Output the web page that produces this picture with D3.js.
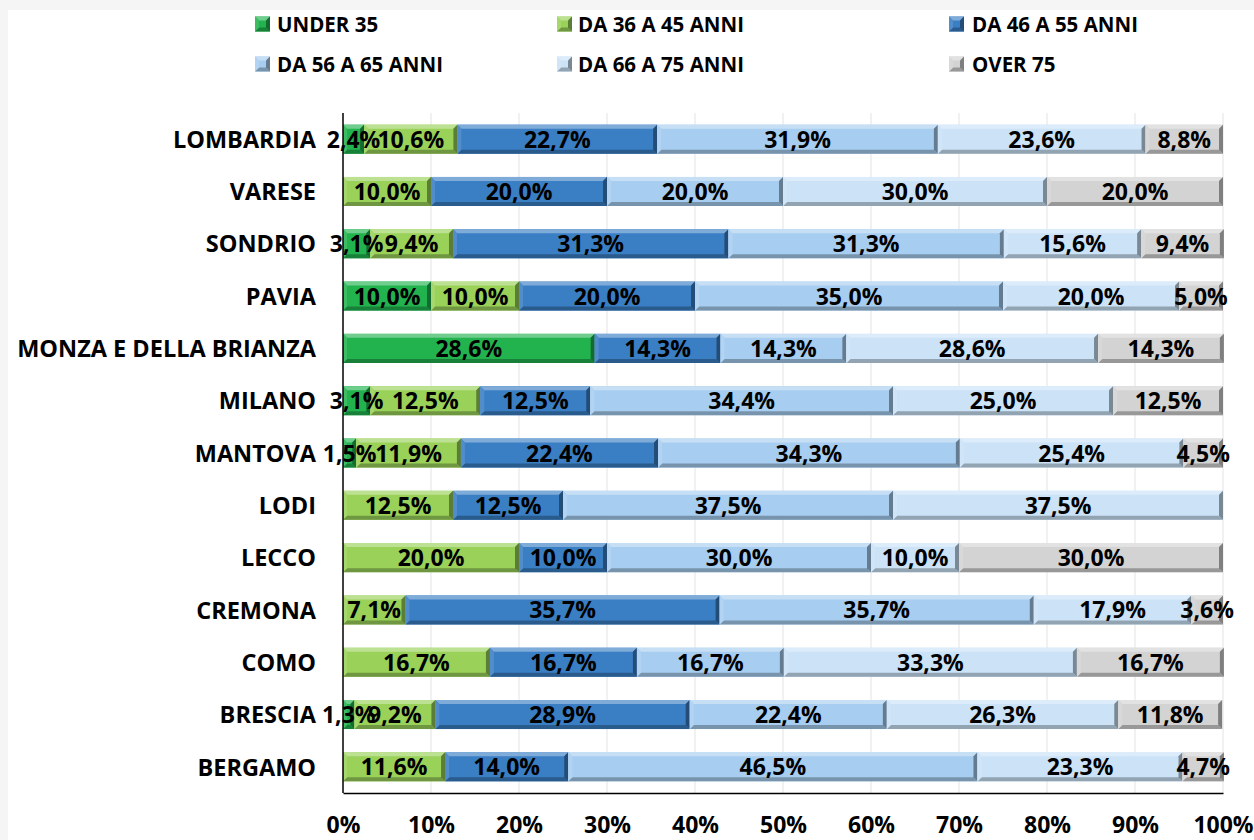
<!DOCTYPE html>
<html>
<head>
<meta charset="utf-8">
<script src="https://cdn.jsdelivr.net/npm/d3@7"></script>
<style>
  html, body { margin: 0; padding: 0; background: #f5f5f5; }
  svg { display: block; }
  text { font-family: "Open Sans", "DejaVu Sans", sans-serif; font-weight: 700; fill: #000; }
</style>
</head>
<body>
<svg id="chart" width="1254" height="840"></svg>
<script>
const categories = ["LOMBARDIA", "VARESE", "SONDRIO", "PAVIA", "MONZA E DELLA BRIANZA", "MILANO",
  "MANTOVA", "LODI", "LECCO", "CREMONA", "COMO", "BRESCIA", "BERGAMO"];
const seriesNames = ["UNDER 35", "DA 36 A 45 ANNI", "DA 46 A 55 ANNI", "DA 56 A 65 ANNI", "DA 66 A 75 ANNI", "OVER 75"];
const under35   = [2.4, 0,    3.1, 10.0, 28.6, 3.1,  1.5,  0,    0,    0,    0,    1.3,  0];
const da36a45   = [10.6, 10.0, 9.4, 10.0, 0,    12.5, 11.9, 12.5, 20.0, 7.1,  16.7, 9.2,  11.6];
const da46a55   = [22.7, 20.0, 31.3, 20.0, 14.3, 12.5, 22.4, 12.5, 10.0, 35.7, 16.7, 28.9, 14.0];
const da56a65   = [31.9, 20.0, 31.3, 35.0, 14.3, 34.4, 34.3, 37.5, 30.0, 35.7, 16.7, 22.4, 46.5];
const da66a75   = [23.6, 30.0, 15.6, 20.0, 28.6, 25.0, 25.4, 37.5, 10.0, 17.9, 33.3, 26.3, 23.3];
const over75    = [8.8, 20.0, 9.4, 5.0, 14.3, 12.5, 4.5, 0, 30.0, 3.6, 16.7, 11.8, 4.7];
const tickValues = [0, 10, 20, 30, 40, 50, 60, 70, 80, 90, 100];
const tickLabels = ["0%", "10%", "20%", "30%", "40%", "50%", "60%", "70%", "80%", "90%", "100%"];

const seriesValues = [under35, da36a45, da46a55, da56a65, da66a75, over75];
const colors = ["#22b34f", "#9ad159", "#3a7ec4", "#a7cdf0", "#cbe2f7", "#d3d3d3"];

const svg = d3.select("#chart");
svg.append("rect").attr("x", 8).attr("y", 10).attr("width", 1254 - 8).attr("height", 840 - 10).attr("fill", "#ffffff");

const x = d3.scaleLinear().domain([0, 100]).range([343, 1223]);
const y = d3.scaleBand().domain(categories).range([113, 793]).paddingInner(0.445).paddingOuter(0.2225);

// gridlines
svg.append("g").selectAll("line").data(tickValues.slice(1)).join("line")
  .attr("x1", d => x(d)).attr("x2", d => x(d))
  .attr("y1", 113).attr("y2", 793)
  .attr("stroke", "#e3e3e3").attr("stroke-width", 1);

// stack
const rows = categories.map((c, i) => {
  const r = { cat: c };
  seriesNames.forEach((s, j) => r[s] = seriesValues[j][i]);
  return r;
});
const stacked = d3.stack().keys(seriesNames)(rows);

function mix(c, target, t) {
  const a = d3.rgb(c), b = d3.rgb(target);
  return d3.rgb(a.r + (b.r - a.r) * t, a.g + (b.g - a.g) * t, a.b + (b.b - a.b) * t).formatHex();
}

function bevel(g, x0, y0, w, h, col, bw) {
  const b = Math.min(bw, w / 2, h / 2);
  const x1 = x0 + w, y1 = y0 + h;
  g.append("rect").attr("x", x0).attr("y", y0).attr("width", w).attr("height", h).attr("fill", col);
  const poly = (pts, fill) => g.append("polygon").attr("points", pts.map(p => p.join(",")).join(" ")).attr("fill", fill);
  poly([[x0, y0], [x1, y0], [x1 - b, y0 + b], [x0 + b, y0 + b]], mix(col, "#ffffff", 0.35));
  poly([[x0, y1], [x1, y1], [x1 - b, y1 - b], [x0 + b, y1 - b]], mix(col, "#000000", 0.28));
  poly([[x0, y0], [x0 + b, y0 + b], [x0 + b, y1 - b], [x0, y1]], mix(col, "#ffffff", 0.12));
  poly([[x1, y0], [x1 - b, y0 + b], [x1 - b, y1 - b], [x1, y1]], mix(col, "#000000", 0.4));
}

const barsG = svg.append("g");
stacked.forEach((layer, j) => {
  layer.forEach((seg, i) => {
    const v = seg[1] - seg[0];
    if (v <= 0) return;
    const gx = barsG.append("g");
    bevel(gx, x(seg[0]), y(categories[i]), x(seg[1]) - x(seg[0]), y.bandwidth(), colors[j], 4);
  });
});

// labels
const fmt = v => v.toFixed(1).replace(".", ",") + "%";
const labG = svg.append("g");
stacked.forEach((layer, j) => {
  layer.forEach((seg, i) => {
    const v = seg[1] - seg[0];
    if (v <= 0) return;
    labG.append("text")
      .attr("x", (x(seg[0]) + x(seg[1])) / 2)
      .attr("y", y(categories[i]) + y.bandwidth() / 2)
      .attr("dy", "0.37em")
      .attr("text-anchor", "middle")
      .attr("font-size", 23)
      .text(fmt(seriesValues[j][i]));
  });
});

// axes lines
svg.append("line").attr("x1", 343).attr("x2", 343).attr("y1", 113).attr("y2", 793).attr("stroke", "#000").attr("stroke-width", 1.5);
const xAxis = d3.axisBottom(x).tickValues(tickValues).tickFormat((d, i) => tickLabels[i]).tickSize(0).tickPadding(0);
const ax = svg.append("g").attr("transform", "translate(0,793)").call(xAxis);
ax.select(".domain").attr("stroke", "#000").attr("stroke-width", 1.5);
ax.selectAll("text").attr("font-size", 23).attr("font-family", "Open Sans").attr("font-weight", 700)
  .attr("y", 40).attr("dy", 0);

// category labels
const yAxis = d3.axisLeft(y).tickSize(0).tickPadding(0);
const ay = svg.append("g").attr("transform", "translate(316,0)").call(yAxis);
ay.select(".domain").remove();
ay.selectAll("text").attr("font-size", 23.5).attr("font-family", "Open Sans").attr("font-weight", 700).attr("dy", "0.37em");

// legend
const legendPos = [[255, 277, 24], [557, 578, 24], [949, 972, 24], [255, 277, 64], [557, 578, 64], [949, 972, 64]];
const lg = svg.append("g");
seriesNames.forEach((s, j) => {
  const [sx, tx, cy] = legendPos[j];
  bevel(lg.append("g"), sx, cy - 7.5, 15, 15, colors[j], 4);
  lg.append("text").attr("x", tx).attr("y", cy).attr("dy", "0.37em").attr("font-size", 20.5).text(s);
});
</script>
</body>
</html>
